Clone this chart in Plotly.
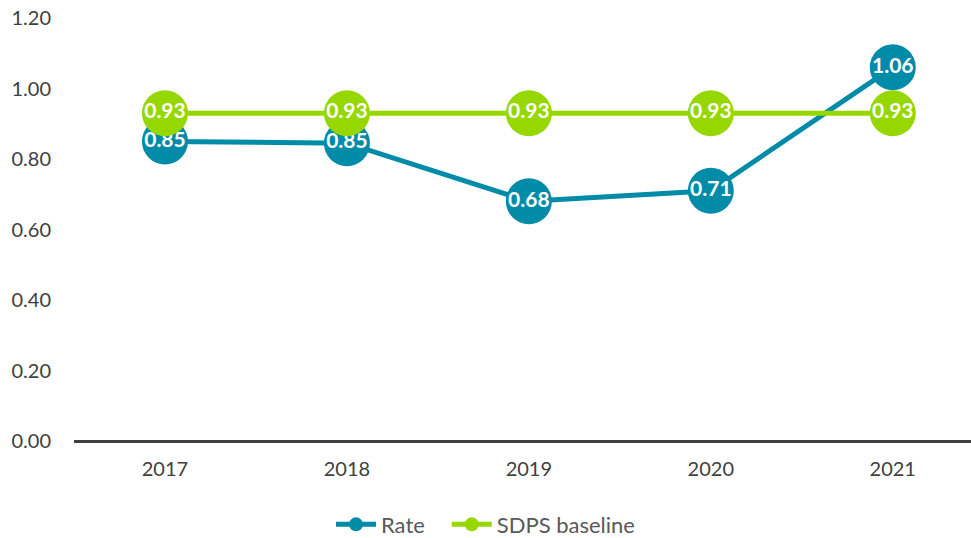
import plotly.graph_objects as go

years = ["2017", "2018", "2019", "2020", "2021"]
rate = [0.85, 0.845, 0.68, 0.71, 1.06]
rate_labels = ["0.85", "0.85", "0.68", "0.71", "1.06"]
baseline = [0.93, 0.93, 0.93, 0.93, 0.93]
baseline_labels = ["0.93", "0.93", "0.93", "0.93", "0.93"]
y_ticks = [0, 0.2, 0.4, 0.6, 0.8, 1.0, 1.2]
y_tick_text = ["0.00", "0.20", "0.40", "0.60", "0.80", "1.00", "1.20"]

TEAL = "#008CA8"
GREEN = "#97D700"
FONT = "Lato, 'Open Sans', sans-serif"

fig = go.Figure()
for name, vals, labels, col in [("Rate", rate, rate_labels, TEAL),
                                 ("SDPS baseline", baseline, baseline_labels, GREEN)]:
    fig.add_trace(go.Scatter(
        x=years, y=vals, mode="lines+markers+text", name=name,
        text=labels, textposition="middle center",
        textfont=dict(color="white", size=21, family=FONT, weight="bold"),
        line=dict(color=col, width=5),
        marker=dict(color=col, size=46),
        showlegend=False, cliponaxis=False,
    ))
for name, col in [("Rate\u00a0\u00a0\u00a0", TEAL), ("SDPS baseline", GREEN)]:
    fig.add_trace(go.Scatter(
        x=[None], y=[None], mode="lines+markers", name=name,
        line=dict(color=col, width=5), marker=dict(color=col, size=14),
        showlegend=True,
    ))

fig.update_layout(
    width=971, height=538,
    margin=dict(l=74, r=0, t=18, b=97, autoexpand=False),
    plot_bgcolor="white", paper_bgcolor="white",
    font=dict(family=FONT, size=20, color="#404040"),
    xaxis=dict(type="category", range=[-0.5, 4.43], showgrid=False,
               showline=False, zeroline=False, ticks="",
               tickfont=dict(size=20, color="#404040"), ticklabelstandoff=14),
    yaxis=dict(range=[0, 1.2], tickvals=y_ticks, ticktext=y_tick_text,
               showgrid=False, zeroline=True, zerolinecolor="#404040",
               zerolinewidth=3, showline=False, ticks="",
               tickfont=dict(size=20, color="#404040"), ticklabelstandoff=22),
    legend=dict(orientation="h", x=0.5, xanchor="center", xref="container",
                y=0.025, yanchor="middle", yref="container",
                font=dict(size=22, color="#595959"), itemwidth=40,
                tracegroupgap=0),
)

fig.write_html("out.html")
